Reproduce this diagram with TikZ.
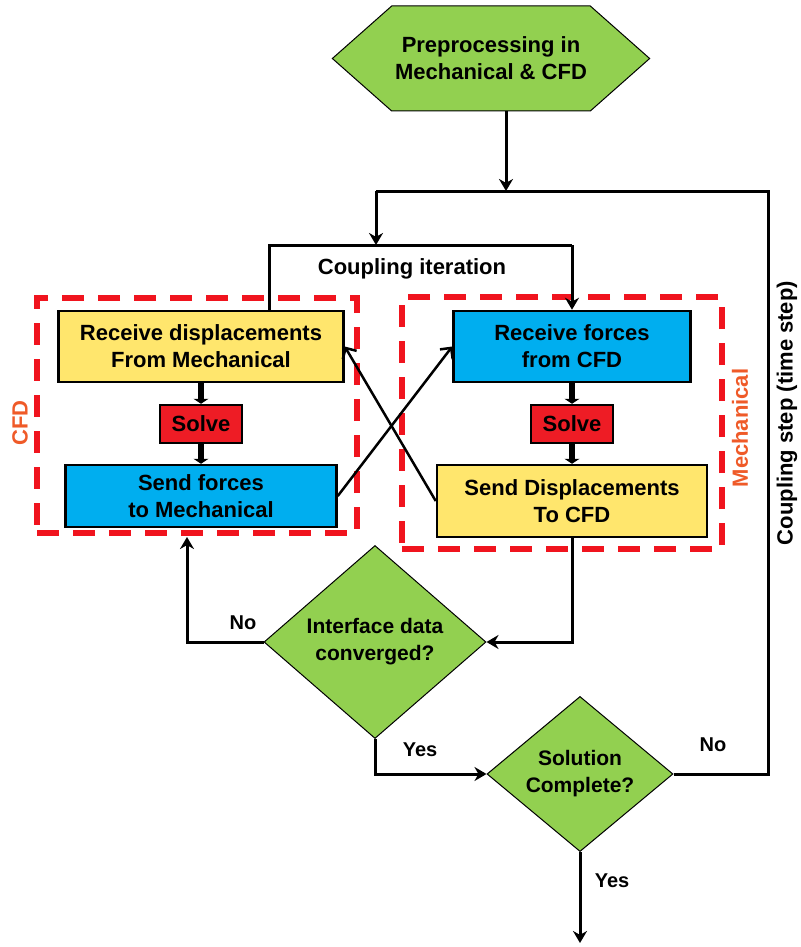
\documentclass[tikz,border=0pt]{standalone}
\usepackage{fontspec}
\setmainfont{Liberation Sans}
\usepackage{tikz}
\usetikzlibrary{positioning,arrows.meta,shapes.geometric,shapes.symbols,calc}
\usepackage{xcolor}

\definecolor{hexgreen}{HTML}{92D050}
\definecolor{boxyellow}{HTML}{FFE66D}
\definecolor{boxblue}{HTML}{00AEEF}
\definecolor{solvered}{HTML}{EE1C25}
\definecolor{dashred}{HTML}{F0141E}
\definecolor{labelorange}{HTML}{EF5A28}

\begin{document}
\begin{tikzpicture}[x=1pt,y=-1pt,
  txt/.style={font=\fontsize{22}{27}\selectfont\bfseries,align=center},
  box/.style={txt,draw=black,line width=2.5pt,inner sep=0pt},
  decision/.style={diamond,draw=black,line width=1pt,fill=hexgreen,inner sep=0pt,font=\fontsize{21}{27}\selectfont\bfseries,align=center},
  groupbox/.style={draw=dashred,line width=6pt,dash pattern=on 22pt off 14pt},
  link/.style={line width=3pt},
  arr/.style={link,-{Stealth[length=12pt,width=14pt]}},
  cross/.style={line width=2.5pt,-{Straight Barb[length=8pt,width=16pt]}},
  fat/.style={line width=6pt,-{Triangle[length=5pt,width=15pt]}},
  sidelabel/.style={txt,text=labelorange,rotate=90}]
\useasboundingbox (0,0) rectangle (800,947);

\node[groupbox,minimum width=320pt,minimum height=235pt] (cfdbox) at (197,415.5) {};
\node[groupbox,minimum width=320pt,minimum height=252pt] (mechbox) at (562,423) {};
\node[sidelabel] (cfdlabel) at (20,423) {CFD};
\node[sidelabel] (mechlabel) at (740,428) {Mechanical};

\node[txt,shape=signal,signal to=west and east,signal pointer angle=83,draw=black,line width=1pt,fill=hexgreen,minimum width=298pt,minimum height=105pt] (prep) at (491,58.5) {Preprocessing in\\Mechanical \& CFD};

\node[box,fill=boxyellow,minimum width=285pt,minimum height=71pt] (recvdisp) at (201,346.5) {Receive displacements\\From Mechanical};
\node[box,fill=solvered,minimum width=82pt,minimum height=38pt] (solveA) at (201,424) {Solve};
\node[box,fill=boxblue,minimum width=271pt,minimum height=62pt] (sendforce) at (201,496) {Send forces\\to Mechanical};
\node[box,fill=boxblue,minimum width=237pt,minimum height=71pt] (recvforce) at (572,346.5) {Receive forces\\from CFD};
\node[box,fill=solvered,minimum width=82pt,minimum height=38pt] (solveB) at (572,424) {Solve};
\node[box,fill=boxyellow,minimum width=270pt,minimum height=72pt] (senddisp) at (572,501) {Send Displacements\\To CFD};

\node[decision,minimum width=222pt,minimum height=193pt] (iface) at (375,642) {Interface data\\converged?};
\node[decision,minimum width=186pt,minimum height=142pt] (sol) at (580,774) {Solution\\Complete?};

\coordinate (busin) at (506,191);
\coordinate (busL) at (376,191);
\coordinate (busR) at (768,191);
\coordinate (iterL) at (269,245);
\coordinate (iterR) at (572,245);
\coordinate (cfdin) at (187,537);
\coordinate (finish) at (580,943);

\draw[arr] (prep.south -| busin) -- (busin);
\draw[link] (sol.east) -- (sol.east -| busR) -- (busR) -- (busL);
\draw[arr] (busL) -- (busL |- iterL);
\draw[link] (recvdisp.north -| iterL) -- (iterL) -- (iterR);
\draw[arr] (iterR) -- (recvforce.north -| iterR);

\draw[fat] (recvdisp) -- (solveA);
\draw[fat] (solveA) -- (sendforce);
\draw[fat] (recvforce) -- (solveB);
\draw[fat] (solveB) -- (senddisp);
\draw[cross] (sendforce.east) -- (recvforce.west);
\draw[cross] (senddisp.west) -- (recvdisp.east);

\draw[arr] (senddisp.south) |- (iface.east);
\draw[arr] (iface.west) -| (cfdin);
\draw[arr] (iface.south) |- (sol.west);
\draw[arr] (sol.south) -- (finish);

\node[txt] (iterlabel) at (412,269) {Coupling iteration};
\node[txt,rotate=90] (steplabel) at (787,413) {Coupling step (time step)};
\node[decision,draw=none,fill=none,font=\fontsize{20}{24}\selectfont\bfseries] (noA) at (243,623) {No};
\node[decision,draw=none,fill=none,font=\fontsize{20}{24}\selectfont\bfseries] (yesA) at (420,750) {Yes};
\node[decision,draw=none,fill=none,font=\fontsize{20}{24}\selectfont\bfseries] (noB) at (713,745) {No};
\node[decision,draw=none,fill=none,font=\fontsize{20}{24}\selectfont\bfseries] (yesB) at (612,881) {Yes};
\end{tikzpicture}
\end{document}
